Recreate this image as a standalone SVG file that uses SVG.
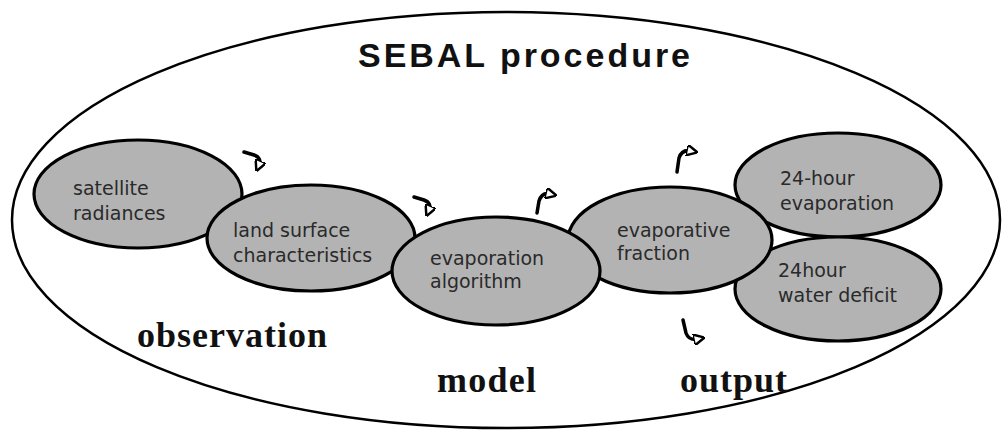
<svg xmlns="http://www.w3.org/2000/svg" width="1008" height="433" viewBox="0 0 1008 433">
<style>
.bg{fill:#ffffff}
.outer{fill:none;stroke:#000;stroke-width:2.5}
.node{fill:#b3b3b3;stroke:#000;stroke-width:3.2}
.nt{font-family:"DejaVu Sans",sans-serif;font-size:19px;fill:#2a2a2a}
.title{font-family:"Liberation Sans",Arial,sans-serif;font-size:34px;font-weight:bold;fill:#111}
.lab{font-family:"Liberation Serif","Times New Roman",serif;font-size:36px;font-weight:bold;fill:#111}
.arr{fill:none;stroke:#000;stroke-width:3.5;stroke-linecap:round}
</style>
<defs>
<marker id="ah" viewBox="0 0 10 10" refX="4" refY="5" markerWidth="3.2" markerHeight="3.2" orient="auto" markerUnits="strokeWidth">
<path d="M0,0 L10,5 L0,10 Z" fill="#fff" stroke="#000" stroke-width="2.2"/>
</marker>
</defs>
<rect class="bg" x="0" y="0" width="1008" height="433"/>
<g id="frame">
<ellipse class="outer" cx="506" cy="220" rx="494" ry="208"/>
<text class="title" x="358" y="67" textLength="332" lengthAdjust="spacing">SEBAL procedure</text>
</g>
<g id="labels">
<text class="lab" x="137" y="347" textLength="190" lengthAdjust="spacing">observation</text>
<text class="lab" x="437" y="392" textLength="99" lengthAdjust="spacing">model</text>
<text class="lab" x="680" y="392" textLength="107" lengthAdjust="spacing">output</text>
</g>
<g id="node-satellite">
<ellipse class="node" cx="138" cy="194" rx="104" ry="54"/>
<text class="nt" x="73" y="195">satellite</text>
<text class="nt" x="73" y="220">radiances</text>
</g>
<g id="node-evap24">
<ellipse class="node" cx="838" cy="185" rx="103" ry="52"/>
<text class="nt" x="780" y="185">24-hour</text>
<text class="nt" x="780" y="210">evaporation</text>
</g>
<g id="node-deficit">
<ellipse class="node" cx="838" cy="289" rx="103" ry="52"/>
<text class="nt" x="778" y="277">24hour</text>
<text class="nt" x="778" y="302">water deficit</text>
</g>
<g id="node-land">
<ellipse class="node" cx="311" cy="238" rx="104" ry="53"/>
<text class="nt" x="233" y="237">land surface</text>
<text class="nt" x="233" y="262">characteristics</text>
</g>
<g id="node-fraction">
<ellipse class="node" cx="670" cy="240" rx="102" ry="53"/>
<text class="nt" x="617" y="237">evaporative</text>
<text class="nt" x="617" y="260">fraction</text>
</g>
<g id="node-algorithm">
<ellipse class="node" cx="496" cy="271" rx="104" ry="54"/>
<text class="nt" x="430" y="265">evaporation</text>
<text class="nt" x="430" y="288">algorithm</text>
</g>
<g id="connectors">
<path class="arr" marker-end="url(#ah)" d="M244,152 L254,155 Q262,158 259,165"/>
<path class="arr" marker-end="url(#ah)" d="M414,197 L424,200 Q432,203 429,210"/>
<path class="arr" marker-end="url(#ah)" d="M537,213 L539,201 Q542,192 550,194"/>
<path class="arr" marker-end="url(#ah)" d="M677,172 L679,158 Q682,149 691,151"/>
<path class="arr" marker-end="url(#ah)" d="M683,320 L686,333 Q689,341 698,339"/>
</g>
</svg>
